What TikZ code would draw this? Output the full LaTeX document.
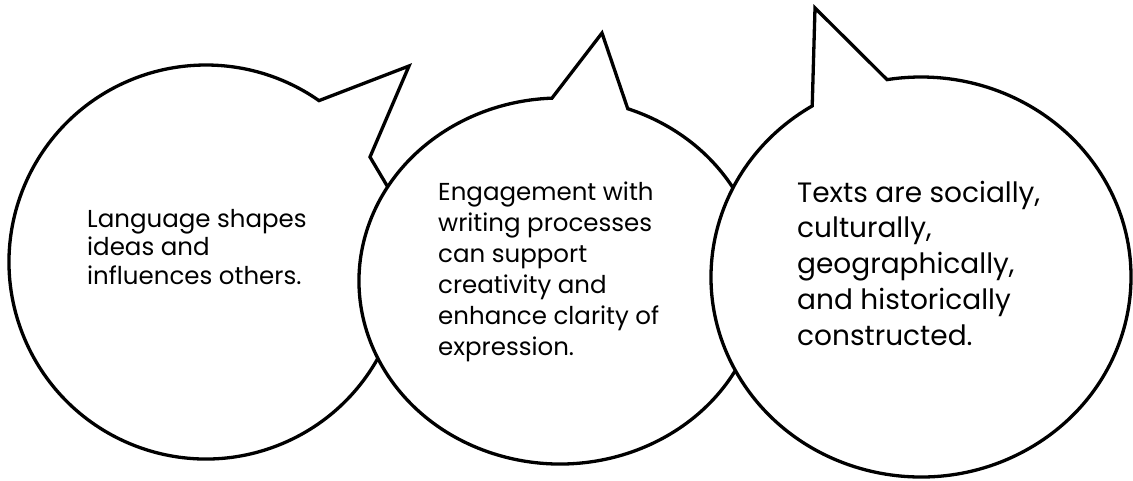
\documentclass[tikz,border=0pt]{standalone}
\usepackage{fontspec}
\setmainfont{Poppins}
\usepackage{tikz}

\begin{document}
\begin{tikzpicture}[x=1pt,y=-1pt]
    \tikzstyle{bubble}=[draw,fill=white,line width=3.3pt,line join=miter]
    \tikzstyle{say}=[anchor=base west,inner sep=0pt,align=left]
    \useasboundingbox (0,0) rectangle (1133,480);
    \coordinate (c1) at (206,262);
    \coordinate (c2) at (560,281);
    \coordinate (c3) at (921,277);
    \coordinate (tip1) at (409,66);
    \coordinate (tip2) at (602,33);
    \coordinate (tip3) at (815,8);
    \coordinate (notch1) at (370,157);
    \draw [bubble] ([shift={(c1)}]55:197pt) -- (tip1) -- (notch1) -- ([shift={(c1)}]21.75:197pt)
        arc [start angle=21.75,end angle=-305,radius=197pt] -- cycle;
    \draw [bubble] ([shift={(c2)}]92.3:201pt and 183pt) -- (tip2) -- ([shift={(c2)}]70.3:201pt and 183pt)
        arc [start angle=70.3,end angle=-267.7,x radius=201pt,y radius=183pt] -- cycle;
    \draw [bubble] ([shift={(c3)}]99.3:210pt and 200pt) -- (tip3) -- ([shift={(c3)}]121.2:210pt and 200pt)
        arc [start angle=121.2,end angle=459.3,x radius=210pt,y radius=200pt] -- cycle;
    \node (say1) at (87,284) [say,font=\fontsize{24.5}{28.5}\selectfont] {Language shapes\\ideas and\\influences others.};
    \node (say2) at (438,355) [say,font=\fontsize{24.5}{31}\selectfont] {Engagement with\\writing processes\\can support\\creativity and\\enhance clarity of\\expression.};
    \node (say3) at (797,345) [say,font=\fontsize{28}{35.75}\selectfont] {Texts are socially,\\culturally,\\geographically,\\and historically\\constructed.};
\end{tikzpicture}
\end{document}
